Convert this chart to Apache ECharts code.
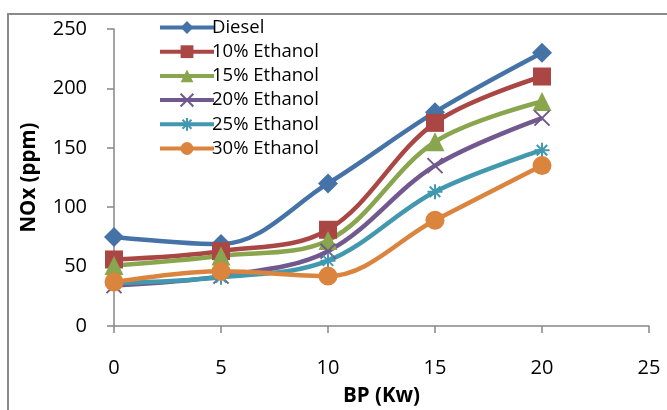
<!DOCTYPE html>
<html><head><meta charset="utf-8">
<script src="https://cdn.jsdelivr.net/npm/echarts@6/dist/echarts.min.js"></script>
<style>html,body{margin:0;padding:0;background:#fff}#c{width:667px;height:410px}</style>
</head><body><div id="c"></div>
<script>
const xValues = [0, 5, 10, 15, 20];
const seriesNames = ['Diesel', '10% Ethanol', '15% Ethanol', '20% Ethanol', '25% Ethanol', '30% Ethanol'];
const diesel = [75, 69, 120, 180, 230];
const eth10 = [56, 63, 81, 171, 210];
const eth15 = [51, 59, 72, 155, 189];
const eth20 = [34, 42, 63, 135, 175];
const eth25 = [36, 41, 55, 113, 148];
const eth30 = [37, 46, 42, 89, 135];
const yTicks = [0, 50, 100, 150, 200, 250];
const xTicks = [0, 5, 10, 15, 20, 25];

const allData = [diesel, eth10, eth15, eth20, eth25, eth30];
const colors = ['#4572A7', '#AA4643', '#89A54E', '#71588F', '#4198AF', '#DB843D'];
const xPath = 'path://M0,0L10,10M10,0L0,10';
const starPath = 'path://M5,0L5,10M0,5L10,5M1.5,1.5L8.5,8.5M8.5,1.5L1.5,8.5';
const symbols = ['diamond', 'rect', 'triangle', xPath, starPath, 'circle'];
const sizes = [20, 18, 19, 15, 15, 19];

const series = seriesNames.map((n, i) => ({
  name: n, type: 'line', smooth: 0.35,
  data: xValues.map((x, j) => [x, allData[i][j]]),
  symbol: symbols[i], symbolSize: sizes[i],
  lineStyle: { color: colors[i], width: 4.5 },
  itemStyle: (i === 3 || i === 4) ? { color: 'none', borderColor: colors[i], borderWidth: 2 } : { color: colors[i] },
  color: colors[i]
}));

const chart = echarts.init(document.getElementById('c'), null, { renderer: 'canvas' });
chart.setOption({
  animation: false,
  graphic: [{ type: 'polyline', shape: { points: [[8, 420], [8, 14], [680, 14]] }, style: { stroke: '#8a8a8a', lineWidth: 2, fill: null } }],
  legend: {
    orient: 'vertical', left: 153, top: 13, itemWidth: 54, itemHeight: 16, itemGap: 5.2,
    lineStyle: { width: 4 },
    textStyle: { fontFamily: 'Open Sans', fontSize: 18.5, color: '#000', padding: [0, 0, 0, -7] },
    data: seriesNames
  },
  grid: { left: 114, right: 18, top: 29, bottom: 84, containLabel: false, outerBoundsMode: 'none' },
  xAxis: {
    type: 'value', min: 0, max: 25, interval: 5,
    name: 'BP (Kw)', nameLocation: 'middle', nameGap: 60,
    nameTextStyle: { fontFamily: 'Open Sans', fontWeight: 'bold', fontSize: 20.5, color: '#000' },
    axisLine: { lineStyle: { color: '#868686', width: 1.5 } },
    axisTick: { length: 7, lineStyle: { color: '#868686', width: 1.5 } },
    axisLabel: { fontFamily: 'Open Sans', fontSize: 20, color: '#000', margin: 32 },
    splitLine: { show: false }
  },
  yAxis: {
    type: 'value', min: 0, max: 250, interval: 50,
    name: 'NOx (ppm)', nameLocation: 'middle', nameGap: 74, nameRotate: 90,
    nameTextStyle: { fontFamily: 'Open Sans', fontWeight: 'bold', fontSize: 20.5, color: '#000' },
    axisLine: { show: true, lineStyle: { color: '#868686', width: 1.5 } },
    axisTick: { show: true, length: 7, lineStyle: { color: '#868686', width: 1.5 } },
    axisLabel: { fontFamily: 'Open Sans', fontSize: 20, color: '#000', margin: 27 },
    splitLine: { show: false }
  },
  series: series
});
</script></body></html>
